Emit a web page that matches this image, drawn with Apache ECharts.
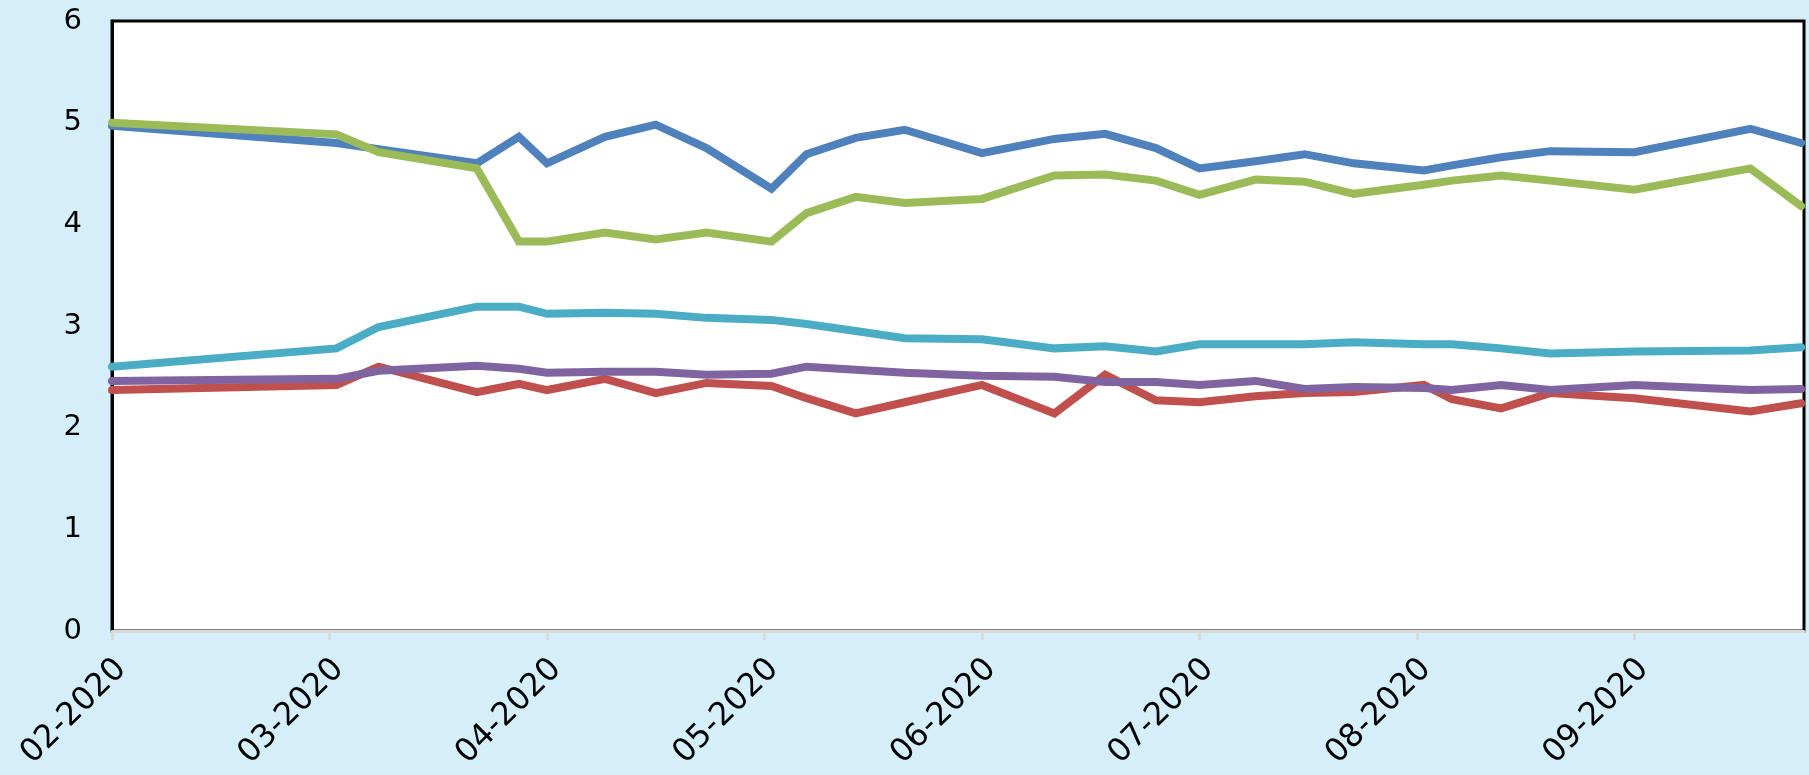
<!DOCTYPE html>
<html>
<head>
<meta charset="utf-8">
<script src="https://cdn.jsdelivr.net/npm/echarts@6/dist/echarts.min.js"></script>
<style>
	html, body { margin: 0; padding: 0; background: #d4eefa; }
	#chart { width: 1809px; height: 775px; }
</style>
</head>
<body>
<div id="chart"></div>
<script>
// sample dates
const dates = [
	'2020-02-01', '2020-03-02', '2020-03-08', '2020-03-22', '2020-03-28', '2020-04-01',
	'2020-04-09', '2020-04-16', '2020-04-23', '2020-05-02', '2020-05-07', '2020-05-14',
	'2020-05-21', '2020-06-01', '2020-06-11', '2020-06-18', '2020-06-25', '2020-07-01',
	'2020-07-09', '2020-07-16', '2020-07-23', '2020-08-02', '2020-08-06', '2020-08-13',
	'2020-08-20', '2020-09-01', '2020-09-17', '2020-09-24'
]
const blueValues = [4.97, 4.80, 4.74, 4.60, 4.86, 4.60, 4.86, 4.98, 4.75, 4.35, 4.69, 4.85, 4.93, 4.70,
	4.84, 4.89, 4.75, 4.55, 4.62, 4.69, 4.60, 4.53, 4.58, 4.66, 4.72, 4.71, 4.94, 4.80]
const redValues = [2.37, 2.42, 2.60, 2.35, 2.43, 2.37, 2.48, 2.34, 2.44, 2.41, 2.29, 2.14, 2.25, 2.42,
	2.14, 2.52, 2.27, 2.25, 2.31, 2.34, 2.35, 2.42, 2.28, 2.19, 2.34, 2.29, 2.16, 2.24]
const greenValues = [5.00, 4.885, 4.71, 4.55, 3.83, 3.83, 3.92, 3.85, 3.92, 3.83, 4.11, 4.27, 4.21, 4.25,
	4.48, 4.49, 4.43, 4.29, 4.44, 4.42, 4.30, 4.39, 4.43, 4.48, 4.43, 4.34, 4.55, 4.18]
const cyanValues = [2.60, 2.78, 2.99, 3.19, 3.19, 3.12, 3.13, 3.12, 3.08, 3.06, 3.02, 2.95, 2.88, 2.87,
	2.78, 2.80, 2.75, 2.82, 2.82, 2.82, 2.84, 2.82, 2.82, 2.78, 2.73, 2.75, 2.76, 2.79]
const purpleValues = [2.46, 2.48, 2.56, 2.61, 2.58, 2.54, 2.55, 2.55, 2.52, 2.53, 2.60, 2.57, 2.54, 2.51,
	2.50, 2.45, 2.45, 2.42, 2.46, 2.38, 2.40, 2.39, 2.37, 2.42, 2.37, 2.42, 2.37, 2.38]
const monthTicks = [0, 1, 2, 3, 4, 5, 6, 7]
const yTicks = [0, 1, 2, 3, 4, 5, 6]

// months counted from 02-2020, each month the same width
function toMonths(s) {
	let p = s.split('-').map(Number)
	let days = new Date(p[0], p[1], 0).getDate()
	return (p[0] - 2020) * 12 + (p[1] - 2) + (p[2] - 1) / days
}
function pairs(values) {
	return values.map((v, i) => [toMonths(dates[i]), v])
}
function monthLabel(v) {
	let m = 2 + Math.round(v)
	return (m < 10 ? '0' + m : '' + m) + '-2020'
}

let myChart = echarts.init(document.getElementById('chart'))
let lines = [
	{ name: 'Série 1', data: blueValues, color: '#4f81bd' },
	{ name: 'Série 2', data: redValues, color: '#c0504d' },
	{ name: 'Série 3', data: greenValues, color: '#9bbb59' },
	{ name: 'Série 4', data: cyanValues, color: '#4bacc6' },
	{ name: 'Série 5', data: purpleValues, color: '#8064a2' }
]
myChart.setOption({
	animation: false,
	backgroundColor: '#d4eefa',
	grid: {
		left: 112,
		right: 5,
		top: 21,
		bottom: 144,
		outerBoundsMode: 'none',
		containLabel: false,
		show: true,
		backgroundColor: '#fff',
		borderColor: '#000',
		borderWidth: 3
	},
	xAxis: {
		type: 'value',
		min: 0,
		max: 7.78,
		interval: 1,
		splitLine: { show: false },
		axisLine: {
			lineStyle: { color: '#d9d9d9', width: 3 }
		},
		axisTick: {
			show: true,
			length: 9,
			customValues: monthTicks,
			lineStyle: { color: '#d9d9d9', width: 3 }
		},
		axisLabel: {
			customValues: monthTicks,
			rotate: 45,
			margin: 24,
			verticalAlign: 'top',
			lineHeight: 26,
			color: '#000',
			fontSize: 32,
			fontFamily: 'DejaVu Sans',
			formatter: monthLabel
		}
	},
	yAxis: {
		type: 'value',
		min: yTicks[0],
		max: yTicks[yTicks.length - 1],
		interval: 1,
		splitLine: { show: false },
		axisTick: { show: false },
		axisLine: {
			show: true,
			lineStyle: { color: '#000', width: 3 }
		},
		axisLabel: {
			margin: 30,
			color: '#000',
			fontSize: 29,
			fontFamily: 'DejaVu Sans'
		}
	},
	series: lines.map(l => ({
		name: l.name,
		type: 'line',
		data: pairs(l.data),
		showSymbol: false,
		symbol: 'none',
		lineStyle: {
			color: l.color,
			width: 8,
			cap: 'round',
			join: 'miter'
		}
	}))
})
</script>
</body>
</html>
